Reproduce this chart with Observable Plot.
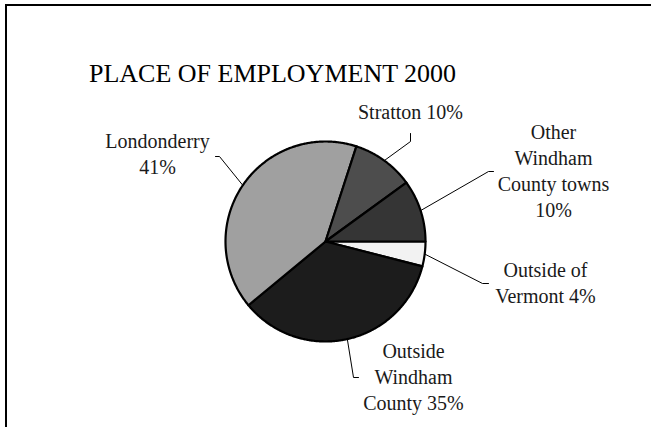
<!DOCTYPE html>
<html>
<head>
<meta charset="utf-8">
<script src="https://cdn.jsdelivr.net/npm/d3@7"></script>
<script src="https://cdn.jsdelivr.net/npm/@observablehq/plot@0.6"></script>
<style>
  html, body { margin: 0; padding: 0; background: #fff; }
  #wrap { position: relative; width: 651px; height: 427px; overflow: hidden; }
  #frame { position: absolute; left: 5px; top: 4px; width: 700px; height: 500px;
           border-left: 2px solid #000; border-top: 2px solid #000; pointer-events: none; }
  #chart { position: absolute; left: 0; top: 0; }
</style>
</head>
<body>
<div id="wrap"><div id="chart"></div><div id="frame"></div></div>
<script>
// ---- data ----
const title = "PLACE OF EMPLOYMENT 2000";
const categories = ["Outside of Vermont", "Outside Windham County", "Londonderry", "Stratton", "Other Windham County towns"];
const shares = [4, 35, 41, 10, 10];
const labelTexts = ["Outside of\nVermont 4%", "Outside\nWindham\nCounty 35%", "Londonderry\n41%", "Stratton 10%", "Other\nWindham\nCounty towns\n10%"];
const sliceColors = ["#f2f2f2", "#1c1c1c", "#a0a0a0", "#4d4d4d", "#353535"];

// ---- layout (pixels) ----
const W = 651, H = 427, cx = 325, cy = 241, R = 100;
const labelAnchors = [[545, 302], [413, 409], [157, 173], [410, 118], [553, 216]]; // centre x, last baseline
const leaderElbows = [[482, 283], [353, 377], [219, 156], [410, 141], [488, 171]];
const leaderEnds   = [[488, 283], [358, 377], [215, 156], [410, 133], [493, 171]];
const titlePos = [272, 81];
const serif = "'Liberation Serif', 'Times New Roman', serif";

// ---- build geometry via cumulative angles ----
const total = d3.sum(shares);
let cum = 0;
const slices = categories.map((c, i) => {
  const a0 = cum / total * 2 * Math.PI;
  cum += shares[i];
  const a1 = cum / total * 2 * Math.PI;
  return {category: c, color: sliceColors[i], a0, a1, mid: (a0 + a1) / 2, i};
});

const polyPts = [];
for (const s of slices) {
  polyPts.push({category: s.category, color: s.color, x: 0, y: 0});
  const n = Math.max(2, Math.ceil((s.a1 - s.a0) / (Math.PI / 360)));
  for (let k = 0; k <= n; k++) {
    const a = s.a0 + (s.a1 - s.a0) * k / n;
    polyPts.push({category: s.category, color: s.color, x: R * Math.cos(a), y: R * Math.sin(a)});
  }
  polyPts.push({category: s.category, color: s.color, x: 0, y: 0});
}

const leaderPts = [];
for (const s of slices) {
  leaderPts.push({category: s.category, x: R * Math.cos(s.mid), y: R * Math.sin(s.mid)});
  leaderPts.push({category: s.category, x: leaderElbows[s.i][0] - cx, y: leaderElbows[s.i][1] - cy});
  leaderPts.push({category: s.category, x: leaderEnds[s.i][0] - cx, y: leaderEnds[s.i][1] - cy});
}

const labels = slices.map(s => ({
  text: labelTexts[s.i],
  x: labelAnchors[s.i][0] - cx,
  y: labelAnchors[s.i][1] - cy
}));

const chart = Plot.plot({
  width: W,
  height: H,
  margin: 0,
  x: {domain: [-cx, W - cx], range: [0, W], axis: null},
  y: {domain: [-cy, H - cy], range: [0, H], axis: null},
  color: {type: "identity"},
  style: {background: "transparent", overflow: "visible"},
  marks: [
    Plot.line(leaderPts, {x: "x", y: "y", z: "category", stroke: "#000", strokeWidth: 1, curve: "linear"}),
    Plot.line(polyPts, {x: "x", y: "y", z: "category", fill: "color", stroke: "#000", strokeWidth: 2.2, strokeLinejoin: "round", curve: "linear"}),
    Plot.text(labels, {x: "x", y: "y", text: "text", fontSize: 20, fontFamily: serif, lineHeight: 26 / 20,
                       lineAnchor: "bottom", textAnchor: "middle", fill: "#1a1a1a"}),
    Plot.text([title], {x: () => titlePos[0] - cx, y: () => titlePos[1] - cy, text: d => d, fontSize: 26,
                        fontFamily: serif, lineAnchor: "bottom", textAnchor: "middle", fill: "#000"})
  ]
});
document.getElementById("chart").appendChild(chart);
</script>
</body>
</html>
